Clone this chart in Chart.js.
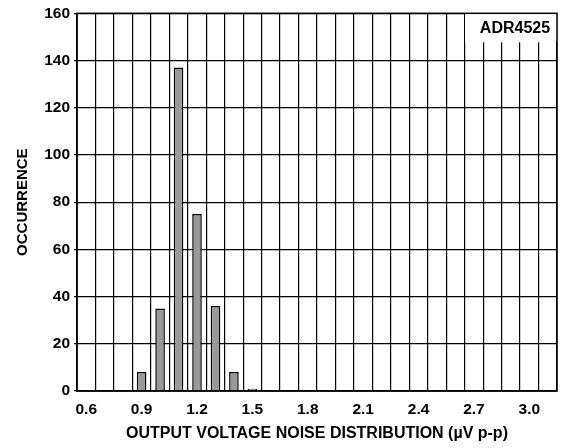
<!DOCTYPE html>
<html>
<head>
<meta charset="utf-8">
<script src="https://cdn.jsdelivr.net/npm/chart.js@4/dist/chart.umd.min.js"></script>
<style>
  html, body { margin: 0; padding: 0; background: #fff; }
  #wrap { width: 561px; height: 448px; }
</style>
</head>
<body>
<div id="wrap"><canvas id="myChart" width="561" height="448"></canvas></div>
<script>
  // noise bins (uV p-p)
  const bins = [
    '0.6', '0.7', '0.8', '0.9', '1.0', '1.1', '1.2', '1.3', '1.4',
    '1.5', '1.6', '1.7', '1.8', '1.9', '2.0', '2.1', '2.2', '2.3',
    '2.4', '2.5', '2.6', '2.7', '2.8', '2.9', '3.0', '3.1',
  ];

  const occurrence = [
    0, 0, 0, 8, 35, 137, 75, 36, 8,
    1, 0, 0, 0, 0, 0, 0, 0, 0,
    0, 0, 0, 0, 0, 0, 0, 0,
  ];

  const shownLabels = ['0.6', '0.9', '1.2', '1.5', '1.8', '2.1', '2.4', '2.7', '3.0'];
  const yTicks = [0, 20, 40, 60, 80, 100, 120, 140, 160];

  const fontFamily = '"Liberation Sans", Arial, Helvetica, sans-serif';

  const frame = {
    id: 'frame',
    afterDraw(chart) {
      const ctx = chart.ctx;
      const a = chart.chartArea;
      ctx.save();
      // label box in the top right corner
      ctx.fillStyle = '#fff';
      ctx.fillRect(a.right - 92, a.top, 92, 29);
      ctx.fillStyle = '#000';
      ctx.font = 'bold 16px ' + fontFamily;
      ctx.textAlign = 'center';
      ctx.textBaseline = 'middle';
      ctx.fillText('ADR4525', a.right - 42, a.top + 15);
      ctx.strokeStyle = '#000';
      ctx.lineWidth = 1.5;
      ctx.strokeRect(a.left, a.top, a.right - a.left, a.bottom - a.top);
      ctx.restore();
    }
  };

  const data = {
    labels: bins,
    datasets: [{
      data: occurrence,
      backgroundColor: '#999999',
      borderColor: '#000',
      borderWidth: 1.5,
      categoryPercentage: 1,
      barPercentage: 0.52,
    }]
  };

  const config = {
    type: 'bar',
    data: data,
    plugins: [frame],
    options: {
      responsive: false,
      animation: false,
      layout: {
        padding: {left: 0, right: 4, top: 12, bottom: 0}
      },
      plugins: {
        legend: {display: false},
        tooltip: {enabled: false},
      },
      scales: {
        x: {
          offset: true,
          afterFit: function(scale) { scale.height = 57; },
          grid: {
            offset: true,
            color: '#000',
            lineWidth: 1.2,
            drawTicks: false,
          },
          border: {color: '#000', width: 1.5},
          ticks: {
            autoSkip: false,
            maxRotation: 0,
            padding: 9,
            color: '#000',
            font: {family: fontFamily, size: 15.5, weight: 'bold'},
            callback: function(value, index) {
              const lbl = bins[index];
              return shownLabels.includes(lbl) ? lbl : '';
            }
          },
          title: {
            display: true,
            text: 'OUTPUT VOLTAGE NOISE DISTRIBUTION (µV p-p)',
            color: '#000',
            font: {family: fontFamily, size: 16, weight: 'bold'},
            padding: {top: 0, bottom: 5},
          }
        },
        y: {
          min: 0,
          max: 160,
          afterFit: function(scale) { scale.width = 77; },
          afterBuildTicks: function(scale) {
            scale.ticks = yTicks.map(v => ({value: v}));
          },
          grid: {
            color: '#000',
            lineWidth: 1.2,
            tickLength: 3,
          },
          border: {color: '#000', width: 1.5},
          ticks: {
            padding: 4,
            color: '#000',
            font: {family: fontFamily, size: 15.5, weight: 'bold'},
          },
          title: {
            display: true,
            text: 'OCCURRENCE',
            color: '#000',
            font: {family: fontFamily, size: 15, weight: 'bold'},
            padding: {top: 14, bottom: 0},
          }
        }
      }
    }
  };

  const myChart = new Chart(
    document.getElementById('myChart'),
    config
  );
</script>
</body>
</html>
